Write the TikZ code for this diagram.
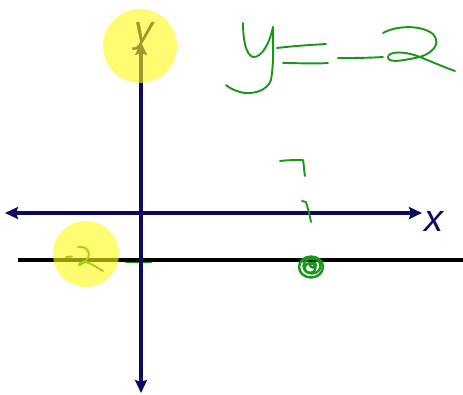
\documentclass[tikz,border=0pt]{standalone}
\usepackage{fontspec}
\setsansfont{Liberation Sans}
\usetikzlibrary{arrows.meta}
\definecolor{navy}{RGB}{10,10,100}
\definecolor{pen}{RGB}{25,150,25}
\definecolor{hl}{RGB}{255,250,20}
\tikzset{
  axis/.style={draw=navy, line width=4.2pt, {Stealth[length=13pt,width=12pt,inset=2pt]}-{Stealth[length=13pt,width=12pt,inset=2pt]}},
  axisone/.style={draw=navy, line width=4.2pt, -{Stealth[length=13pt,width=12pt,inset=2pt]}},
  hline/.style={draw=black, line width=4pt},
  ink/.style={draw=pen, line width=1.9pt, line cap=round, line join=round},
  highlight/.style={fill=hl, fill opacity=0.6},
  axlabel/.style={text=navy, font=\sffamily\itshape\fontsize{38}{38}\selectfont, inner sep=0pt}
}
\begin{document}
\begin{tikzpicture}[x=1pt,y=-1pt]
\useasboundingbox (0,0) rectangle (463,394);
% coordinates
\coordinate (xl) at (5,213);
\coordinate (xr) at (422,213);
\coordinate (yt) at (141,42);
\coordinate (yb) at (141,393);
\coordinate (ya) at (141,213);
\coordinate (hl) at (18,260);
\coordinate (hr) at (463,260);
% green dash at axis
\draw[ink] (126,262.5) -- (151,262.5);
% black line y=-2
\draw[hline] (hl) -- (hr);
% axes
\draw[axis] (xl) -- (xr);
\draw[axisone] (ya) -- (yb);
\draw[axisone] (ya) -- (yt);
\node[axlabel] (xlab) at (434,221) {x};
\node[axlabel] (ylab) at (144,36) {y};
% handwriting y = -2
\draw[ink] (243,23) .. controls (243,40) and (246,55) .. (253,57) .. controls (262,58) and (270,42) .. (273,27);
\draw[ink] (273,27) .. controls (273,45) and (274,62) .. (271,80) .. controls (267,92) and (250,95) .. (240,92) .. controls (233,90) and (228,87) .. (226,85);
\draw[ink] (277,48) .. controls (293,46) and (310,45) .. (326,44);
\draw[ink] (283,63) .. controls (298,63) and (313,64) .. (328,63);
\draw[ink] (338,58) .. controls (353,58) and (368,58) .. (383,57);
\draw[ink] (383,33) .. controls (395,26) and (420,24) .. (433,34) .. controls (442,44) and (432,55) .. (415,58) .. controls (400,61) and (388,63) .. (388,57) .. controls (389,51) and (405,51) .. (420,57) .. controls (432,62) and (444,67) .. (455,71);
% small 7-like marks
\draw[ink] (280,161) .. controls (288,160) and (296,160) .. (303,160) .. controls (304,165) and (304,171) .. (305,176);
\draw[ink] (302,201) -- (306,202) .. controls (308,209) and (310,216) .. (311,222);
% -2 label
\draw[ink] (66,257) -- (72,256.5);
\draw[ink] (78,247) .. controls (83,246) and (88,248) .. (89,254) .. controls (89,259) and (84,263) .. (80,265) .. controls (77,266) and (80,261) .. (86,262) .. controls (92,264) and (98,268) .. (103,271);
% point scribble
\begin{scope}[ink, line width=2.4pt]
\draw (311,267) ellipse [x radius=12, y radius=10.5];
\draw (312,266) ellipse [x radius=8.5, y radius=7.5];
\draw (310,268) ellipse [x radius=5.5, y radius=5];
\draw (313,265) ellipse [x radius=3, y radius=2.5];
\draw (301,262) .. controls (305,256) and (316,255) .. (322,262);
\end{scope}
% highlighter blobs
\fill[highlight] (140,46) ellipse [x radius=37, y radius=37];
\fill[highlight] (86,254) ellipse [x radius=33, y radius=33];
\end{tikzpicture}
\end{document}
